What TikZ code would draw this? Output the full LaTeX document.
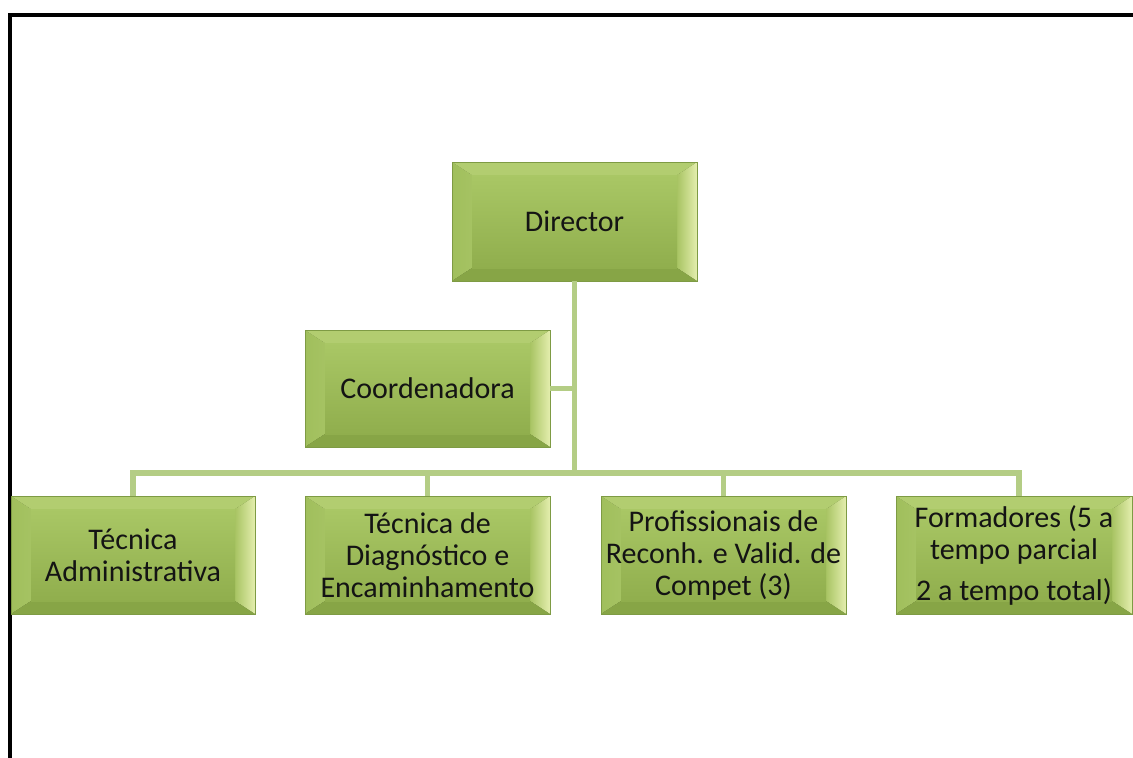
\documentclass[tikz,border=0pt]{standalone}
\usepackage{fontspec}
\setmainfont{Carlito}
\usepackage{tikz}

\definecolor{boxmid}{HTML}{A0BF5C}
\definecolor{boxtop}{HTML}{A9C765}
\definecolor{boxbot}{HTML}{90AE4D}
\definecolor{bevlight}{HTML}{E4EEAE}
\definecolor{bevside}{HTML}{A8C463}
\definecolor{bevdark}{HTML}{87A546}
\definecolor{boxline}{HTML}{7E9B44}
\definecolor{linkgreen}{HTML}{B4CD85}

\tikzset{
  orgbox/.style={draw=boxline,line width=0.8pt,top color=boxtop,bottom color=boxbot,
    minimum width=245,minimum height=118,inner sep=0pt,align=center,text=black!92,
    font=\fontsize{30}{32}\selectfont,
    path picture={
      \fill[left color=boxmid,right color=bevlight]
        (path picture bounding box.south west) -- (path picture bounding box.north west)
        -- ([shift={(20,13)}]path picture bounding box.north west)
        -- ([shift={(20,-13)}]path picture bounding box.south west) -- cycle;
      \fill[left color=bevside,right color=bevlight]
        (path picture bounding box.south east) -- (path picture bounding box.north east)
        -- ([shift={(-20,13)}]path picture bounding box.north east)
        -- ([shift={(-20,-13)}]path picture bounding box.south east) -- cycle;
      \fill[boxtop!85!bevlight]
        (path picture bounding box.north west) -- (path picture bounding box.north east)
        -- ([shift={(-20,13)}]path picture bounding box.north east)
        -- ([shift={(20,13)}]path picture bounding box.north west) -- cycle;
      \fill[bevdark]
        (path picture bounding box.south west) -- (path picture bounding box.south east)
        -- ([shift={(-20,-13)}]path picture bounding box.south east)
        -- ([shift={(20,-13)}]path picture bounding box.south west) -- cycle;
      \fill[top color=boxtop,bottom color=boxbot]
        ([shift={(20,13)}]path picture bounding box.north west)
        rectangle ([shift={(-20,-13)}]path picture bounding box.south east);
    }},
  link/.style={draw=linkgreen,line width=5.5pt}
}

\begin{document}
\begin{tikzpicture}[x=1pt,y=-1pt]
\useasboundingbox[fill=white] (0,0) rectangle (1133,758);
\draw[line width=4pt] (10,758) -- (10,14.5) -- (1133,14.5);

\node[orgbox,minimum height=119] (director) at (574.5,221.5) {Director};
\node[orgbox,minimum height=117] (coord) at (427.5,388.5) {Coordenadora};
\node[orgbox,minimum width=244] (tecadm) at (133,555) {Técnica\\Administrativa};
\node[orgbox] (tecdiag) at (427.5,555) {Técnica de\\Diagnóstico e\\Encaminhamento};
\node[orgbox] (prof) at (723.5,555) {Profissionais de\\Reconh. e Valid. de\\Compet (3)};
\node[orgbox,minimum width=236] (form) at (1014,555) {Formadores (5 a\\tempo parcial\\[9pt]2 a tempo total)};

\coordinate (bus) at (574.5,473);
\draw[link] (director.south) -- (bus);
\draw[link] (coord.east) -- (coord.east -| director.south);
\draw[link] (bus) -| (tecadm.north);
\draw[link] (bus) -| (tecdiag.north);
\draw[link] (bus) -| (prof.north);
\draw[link] (bus) -| ([xshift=5]form.north);
\end{tikzpicture}
\end{document}
